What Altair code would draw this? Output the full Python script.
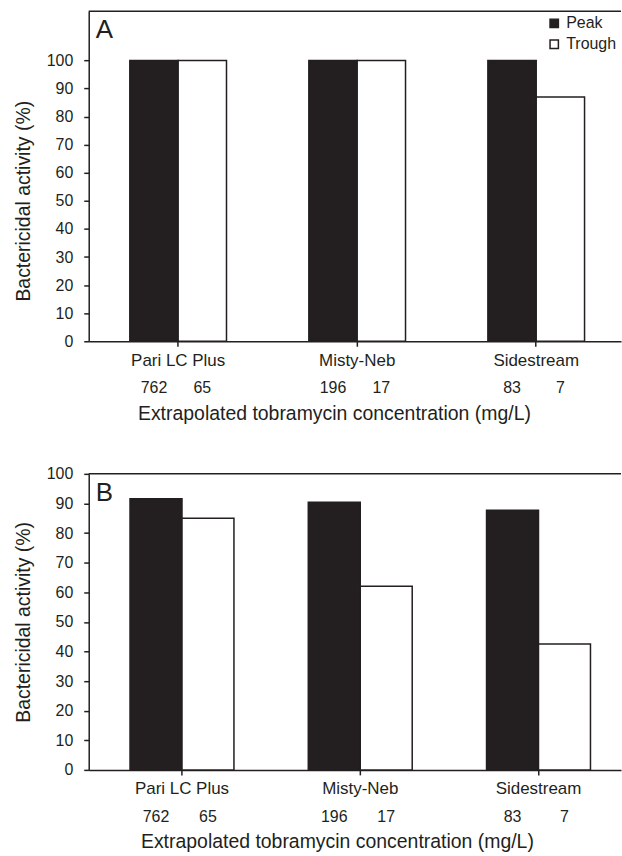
import altair as alt
import pandas as pd

DARK = "#231f20"
FONT = "Liberation Sans"

devices = ["Pari LC Plus", "Misty-Neb", "Sidestream"]
series = ["Peak", "Trough"]
activity_a_peak = [100, 100, 100]
activity_a_trough = [100, 100, 87]
activity_b_peak = [91.6, 90.4, 87.7]
activity_b_trough = [85.0, 62.0, 42.5]
conc_peak = ["762", "196", "83"]
conc_trough = ["65", "17", "7"]
y_ticks = [0, 10, 20, 30, 40, 50, 60, 70, 80, 90, 100]

W = 534


def frame(peak, trough):
    rows = []
    for i, d in enumerate(devices):
        rows.append({"device": d, "series": "Peak", "value": peak[i], "conc": conc_peak[i]})
        rows.append({"device": d, "series": "Trough", "value": trough[i], "conc": conc_trough[i]})
    return pd.DataFrame(rows)


def panel(df, letter, ymax, H, pi, po, align, show_legend, xtitle_x, ytitle_y):
    xscale = alt.Scale(paddingInner=pi, paddingOuter=po, align=align)
    x = alt.X("device:N", sort=devices, scale=xscale,
              axis=alt.Axis(title="Extrapolated tobramycin concentration (mg/L)", labelAngle=0,
                            labelPadding=6, titlePadding=36, titleX=xtitle_x, labelFontSize=17))
    xo = alt.XOffset("series:N", sort=series, scale=alt.Scale(paddingInner=0, paddingOuter=0))
    y = alt.Y("value:Q", scale=alt.Scale(domain=[0, ymax], nice=False, zero=True),
              axis=alt.Axis(values=y_ticks, title="Bactericidal activity (%)", labelPadding=11,
                            titlePadding=13, titleY=ytitle_y, labelFontSize=16))
    if show_legend:
        leg = alt.Legend(title=None, orient="top-right", offset=4, symbolType="square",
                         symbolSize=70, symbolStrokeColor=DARK, symbolStrokeWidth=1.5,
                         labelFontSize=16, labelFont=FONT, labelColor=DARK, rowPadding=5,
                         labelOffset=4, padding=0)
    else:
        leg = None
    fill = alt.Fill("series:N", sort=series,
                    scale=alt.Scale(domain=series, range=[DARK, "white"]), legend=leg)
    bars = alt.Chart(df).mark_bar(stroke=DARK, strokeWidth=1.5).encode(
        x=x, xOffset=xo, y=y, fill=fill)
    nums = alt.Chart(df).mark_text(fontSize=16, color=DARK, font=FONT, baseline="middle").encode(
        x=alt.X("device:N", sort=devices), xOffset=alt.XOffset("series:N", sort=series),
        y=alt.value(H + 47), text="conc:N")
    one = pd.DataFrame({"k": [0]})
    border = alt.Chart(one).mark_rule(color=DARK, strokeWidth=1.5).encode(
        x=alt.value(0), x2=alt.value(W), y=alt.value(0))
    letter_t = alt.Chart(one).mark_text(text=letter, fontSize=26, font=FONT, color=DARK,
                                        align="left", baseline="top").encode(
        x=alt.value(7), y=alt.value(6))
    return alt.layer(bars, nums, border, letter_t).properties(width=W, height=H)


a = panel(frame(activity_a_peak, activity_a_trough), "A", 117.5, 331, 0.46, 0.2166, 0.53, True,
          246, 190)
b = panel(frame(activity_b_peak, activity_b_trough), "B", 100, 297, 0.417, 0.2015, 0.575, False,
          249, 148.5)

chart = alt.vconcat(a, b, spacing=43).resolve_scale(
    x="independent", y="independent", fill="independent", xOffset="independent"
).configure(
    padding={"left": 13, "top": 9, "right": 0, "bottom": 0},
    font=FONT,
).configure_view(stroke=None).configure_axis(
    domainColor=DARK, domainWidth=1.5, tickColor=DARK, tickWidth=1.5, tickSize=5,
    labelColor=DARK, labelFont=FONT, labelFontSize=16, titleColor=DARK, titleFont=FONT,
    titleFontSize=19.5, titleFontWeight="normal", grid=False
)

chart.save("out.html", embed_options={"renderer": "svg", "actions": False})
